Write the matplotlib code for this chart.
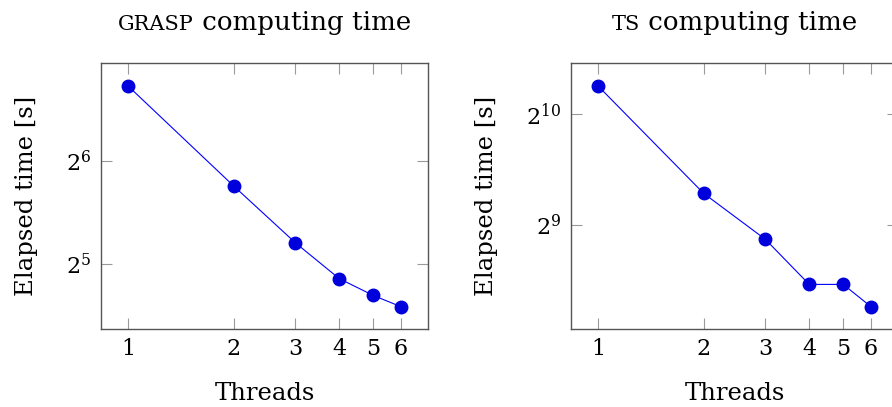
import matplotlib
matplotlib.use('Agg')
import matplotlib.pyplot as plt
from matplotlib.ticker import FixedLocator, FixedFormatter, NullLocator

# ---- data ----
threads = [1, 2, 3, 4, 5, 6]
x_labels = ['1', '2', '3', '4', '5', '6']
grasp_time = [106.0, 54.1, 36.9, 29.0, 25.9, 24.0]
ts_time = [1222, 625, 469, 354, 354, 308]
grasp_yexp = [5, 6]
ts_yexp = [9, 10]
titles = [('GRASP', ' computing time'), ('TS', ' computing time')]
xlabel = 'Threads'
ylabel = 'Elapsed time [s]'

plt.rcParams['font.family'] = ['DejaVu Serif']
plt.rcParams['mathtext.fontset'] = 'dejavuserif'

W, H = 892, 407
fig = plt.figure(figsize=(W / 100, H / 100), dpi=100)


def px_axes(l, t, r, b):
    return [l / W, 1 - b / H, (r - l) / W, (b - t) / H]


ax1 = fig.add_axes(px_axes(101, 63, 428, 329))
ax2 = fig.add_axes(px_axes(571, 63, 898, 329))

BLUE = '#0000ff'


def style(ax, y, exps, ylim, ylab_x):
    ax.plot(threads, y, color=BLUE, lw=0.8, marker='o', ms=9,
            mfc='#0000dd', mec='#0000dd', zorder=3)
    ax.set_xscale('log', base=2)
    ax.set_yscale('log', base=2)
    ax.set_xlim(1 / 1.194, 6 * 1.194)
    ax.set_ylim(*ylim)
    ax.xaxis.set_major_locator(FixedLocator(threads))
    ax.xaxis.set_major_formatter(FixedFormatter(x_labels))
    ax.xaxis.set_minor_locator(NullLocator())
    ax.yaxis.set_major_locator(FixedLocator([2 ** e for e in exps]))
    ax.yaxis.set_major_formatter(FixedFormatter([f'$2^{{{e}}}$' for e in exps]))
    ax.yaxis.set_minor_locator(NullLocator())
    ax.tick_params(which='both', direction='in', top=True, right=True,
                   length=8, width=0.8, color='#9a9a9a', labelsize=16)
    ax.tick_params(axis='x', pad=6.5)
    ax.tick_params(axis='y', pad=7)
    for s in ax.spines.values():
        s.set_color('#555555')
        s.set_linewidth(1.0)
    ax.set_xlabel(xlabel, fontsize=17.5)
    ax.xaxis.label.set_va('baseline')
    ax.xaxis.set_label_coords(0.5, (329 - 400) / 266)
    ax.set_ylabel(ylabel, fontsize=17.5)
    ax.yaxis.label.set_va('center')
    ax.yaxis.set_label_coords(ylab_x, 0.5)


style(ax1, grasp_time, grasp_yexp, (20.66, 123.7), (27 - 101) / 327)
style(ax2, ts_time, ts_yexp, (268, 1410), (487 - 571) / 327)

# titles with small caps emulation
renderer = fig.canvas.get_renderer()
title_y = 1 - 30 / H
for (sc, rest), cx in zip(titles, [264.5, 734.5]):
    t1 = fig.text(0, title_y, sc, fontsize=15, va='baseline', ha='left')
    t2 = fig.text(0, title_y, rest, fontsize=18.8, va='baseline', ha='left')
    w1 = t1.get_window_extent(renderer).width
    w2 = t2.get_window_extent(renderer).width
    x0 = cx - (w1 + w2) / 2
    t1.set_x(x0 / W)
    t2.set_x((x0 + w1) / W)

fig.savefig('out.png', dpi=100)
